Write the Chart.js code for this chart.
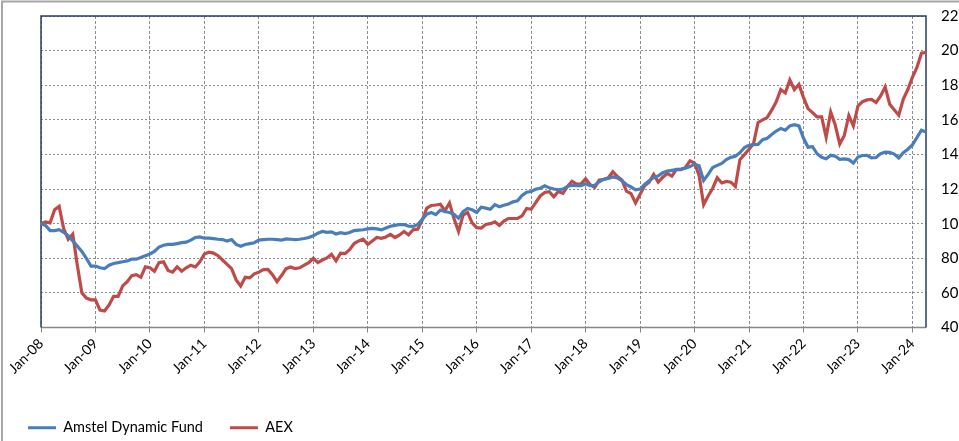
<!DOCTYPE html>
<html>
<head>
<meta charset="utf-8">
<script src="https://cdn.jsdelivr.net/npm/chart.js@4/dist/chart.umd.min.js"></script>
<style>
  html, body { margin: 0; padding: 0; background: #fff; overflow: hidden; }
</style>
</head>
<body>
<canvas id="chart" width="959" height="441"></canvas>
<script>
// monthly labels Jan-08 .. Apr-24
const monthNames = ["Jan", "Feb", "Mar", "Apr", "May", "Jun", "Jul", "Aug", "Sep", "Oct", "Nov", "Dec"];
const months = [];
for (let y = 2008; y <= 2024; y++) {
    for (let m = 0; m < 12; m++) {
        if (y === 2024 && m > 3) break;
        months.push(monthNames[m] + "-" + String(y).slice(2));
    }
}

// one value per month
const amstelDynamic = [
    100, 99, 96, 96, 96.5, 95, 93, 90, 87, 84, 80, 75.5,
    75.5, 74.5, 74, 76, 77, 77.5, 78, 78.5, 79.5, 79.5, 80.5, 81.5,
    82.5, 84, 86.5, 87.5, 88, 88, 88.5, 89, 89.3, 90.5, 92, 92.3,
    91.6, 91.6, 91.4, 91, 90.8, 90, 90.8, 88, 87, 88, 88.5, 89,
    90.5, 90.8, 91, 91, 90.8, 90.5, 91.2, 91, 90.8, 91, 91.4, 92,
    93, 94.5, 95.5, 95, 95.3, 94, 94.8, 94.3, 94.9, 96, 96.3, 96.5,
    97, 97.3, 97, 96.4, 97.5, 98.5, 99, 99.5, 99.5, 98.5, 98.4, 99.5,
    102.5, 105.5, 106.4, 105.2, 107.8, 107, 106.5, 105.3, 103.2, 107, 108.8, 108,
    106.5, 109.5, 109, 108.3, 111, 109.8, 110.6, 111.4, 112.6, 113.2, 116.3, 118.2,
    118.6, 119.9, 120.5, 121.9, 120.7, 120, 119.5, 120, 121.5, 122.2, 122, 122,
    123, 122, 122.2, 124.2, 125.7, 126.2, 127, 126.5, 124.8, 122.6, 121.2, 119.5,
    120, 122.6, 124.8, 126.7, 127.6, 129.5, 130.4, 130.8, 131.2, 131.5, 132, 133,
    134.4, 133.5, 125, 128.5, 132.5, 133.7, 134.8, 137, 138.3, 138.9, 141, 144,
    145.3, 145.7, 145.8, 148.5, 149.3, 151.5, 153.5, 155, 154, 156.5, 157.2, 156.5,
    149.5, 144.2, 144.5, 140.4, 138.4, 137.5, 139.5, 139, 137.2, 137.4, 137, 135,
    138.5, 139.4, 139.5, 138, 138.2, 140.5, 141.3, 141.2, 140.2, 138, 141, 143,
    145.5, 149.8, 154, 153
];

const aex = [
    100, 101, 100.5, 108, 110, 97, 91, 94, 76, 60, 57, 56,
    56, 50, 49.5, 53, 58, 58, 64, 66.5, 70, 70.5, 69, 75,
    74.5, 72.5, 77.5, 78, 73, 72, 75, 72.5, 74.5, 76, 75, 78,
    82.5, 83.5, 83, 81.5, 79, 76.5, 74, 67.5, 64, 69, 68.7, 71,
    72, 73.5, 73.6, 70.5, 66.5, 70, 74, 75, 74, 74.5, 76, 77.5,
    80, 77.5, 79, 80.2, 82.3, 78.5, 83, 82.7, 85, 88.5, 90, 91,
    88, 90, 92, 91.5, 92.3, 93.8, 92, 93.5, 95.5, 93.5, 96.5, 96.8,
    102, 109, 110.5, 110.8, 111.2, 107.5, 112, 103, 95.5, 105, 106.5, 100.5,
    97.7, 97.5, 99.5, 100, 101, 99, 101.5, 103, 103, 103.1, 104.5, 108.8,
    108.3, 112.2, 116, 118, 118.5, 115.5, 118.6, 117.5, 121.5, 124.5, 122.8, 123,
    126, 122.5, 121, 125.2, 125.5, 126.5, 130, 127.2, 125.2, 118.8, 117.4, 112,
    117, 121.9, 124, 128.5, 124, 126.8, 129, 127.5, 131.4, 131.2, 132.5, 136.3,
    135, 128, 111, 116, 120.5, 126.5, 123.5, 124.4, 124, 121.5, 137, 140,
    143, 146.3, 158.5, 160, 161.3, 165.6, 170.4, 177.5, 175.5, 183, 177.5, 180.5,
    173, 166.5, 164.2, 161.7, 161.7, 150, 164.5, 157, 146, 151, 162.5, 156.5,
    168, 170.5, 171.5, 171.8, 170, 173.8, 179, 169, 165.8, 162.7, 172, 177.5,
    184.5, 190.3, 198.5, 199
];

const yMin = 40;
const yMax = 220;
const yStep = 20;

// plot frame + outer chart border, excel style
const frame = {
    id: "frame",
    beforeDatasetsDraw(chart) {
        const { ctx, chartArea: a } = chart;
        ctx.save();
        ctx.strokeStyle = "#868686";
        ctx.lineWidth = 1.5;
        ctx.beginPath();
        ctx.moveTo(a.left, a.bottom);
        ctx.lineTo(a.right, a.bottom);
        ctx.stroke();
        ctx.strokeStyle = "#243f66";
        ctx.beginPath();
        ctx.moveTo(a.left, a.bottom);
        ctx.lineTo(a.left, a.top);
        ctx.lineTo(a.right, a.top);
        ctx.lineTo(a.right, a.bottom);
        ctx.stroke();
        ctx.strokeStyle = "#a6a6a6";
        ctx.lineWidth = 2;
        ctx.beginPath();
        ctx.moveTo(2, chart.height);
        ctx.lineTo(2, 1.5);
        ctx.lineTo(chart.width, 1.5);
        ctx.stroke();
        ctx.restore();
    }
};

new Chart(document.getElementById("chart"), {
    type: "line",
    data: {
        labels: months,
        datasets: [
            {
                label: "Amstel Dynamic Fund",
                data: amstelDynamic,
                borderColor: "#4a7ebb",
                backgroundColor: "#4a7ebb",
                borderWidth: 3.2,
                pointRadius: 0,
                tension: 0
            },
            {
                label: "AEX",
                data: aex,
                borderColor: "#be4b48",
                backgroundColor: "#be4b48",
                borderWidth: 3.2,
                pointRadius: 0,
                tension: 0
            }
        ]
    },
    options: {
        responsive: false,
        animation: false,
        devicePixelRatio: 1,
        layout: { padding: { left: 1, top: 16, right: 0, bottom: -4 } },
        plugins: {
            tooltip: { enabled: false },
            legend: {
                position: "bottom",
                align: "start",
                labels: {
                    boxWidth: 28,
                    boxHeight: 0,
                    padding: 27,
                    color: "#000",
                    font: { family: "Lato", size: 14.5 }
                }
            }
        },
        scales: {
            x: {
                type: "category",
                offset: false,
                border: { display: false, dash: [3, 2] },
                grid: {
                    color: "#8c8c8c",
                    drawTicks: true,
                    tickLength: 5,
                    tickColor: "#868686"
                },
                ticks: {
                    autoSkip: false,
                    maxRotation: 45,
                    minRotation: 45,
                    color: "#000",
                    font: { family: "Lato", size: 14 },
                    // only januaries get a label and a grid line
                    callback: (v, i) => months[i].startsWith("Jan") ? months[i] : null
                },
                afterFit(scale) {
                    scale.paddingLeft = 41;
                    scale.height = 66;
                }
            },
            y: {
                position: "right",
                min: yMin,
                max: yMax,
                border: { display: false, dash: [2, 2] },
                grid: {
                    color: "#8c8c8c",
                    drawTicks: false
                },
                ticks: {
                    stepSize: yStep,
                    padding: 15,
                    color: "#000",
                    font: { family: "Lato", size: 15 }
                },
                afterFit(scale) {
                    scale.width = 33;
                    scale.paddingTop = 0;
                    scale.paddingBottom = 0;
                }
            }
        }
    },
    plugins: [frame]
});
</script>
</body>
</html>
